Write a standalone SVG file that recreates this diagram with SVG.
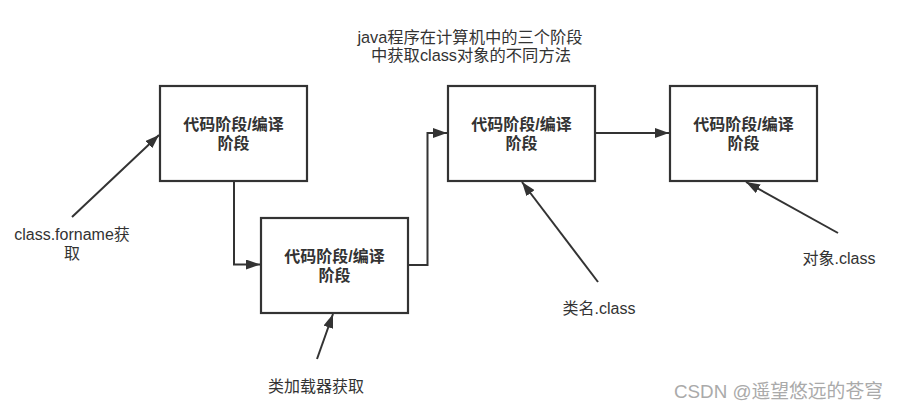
<svg xmlns="http://www.w3.org/2000/svg" width="900" height="409" viewBox="0 0 900 409">
<style>
text{font-family:"Liberation Sans","Noto Sans CJK SC",sans-serif;fill:#333;text-anchor:middle;dominant-baseline:central}
.box{fill:#fff;stroke:#333;stroke-width:2.2}
.bt{font-size:16px;font-weight:bold}
.lb{font-size:16px}
.title{font-size:16.3px}
.edge{fill:none;stroke:#333;stroke-width:2}
.wm{font-size:18.8px;fill:#aaa;text-anchor:start}
</style>
<defs>
<marker id="arr" viewBox="0 0 14 10" refX="14" refY="5" markerWidth="14" markerHeight="10" orient="auto" markerUnits="userSpaceOnUse">
<path d="M0,0 L14,5 L0,10 z" fill="#333"/>
</marker>
</defs>
<rect width="900" height="409" fill="#fff"/>
<g id="title">
<text class="title"><tspan x="470" y="37">java程序在计算机中的三个阶段</tspan><tspan x="471" y="55">中获取class对象的不同方法</tspan></text>
</g>
<g id="connectors">
<polyline class="edge" points="234,181 234,264.5 260,264.5" marker-end="url(#arr)"/>
<polyline class="edge" points="408,265 427.5,265 427.5,133 447,133" marker-end="url(#arr)"/>
<line class="edge" x1="595" y1="133" x2="669" y2="133" marker-end="url(#arr)"/>
<line class="edge" x1="72" y1="217" x2="159" y2="135" marker-end="url(#arr)"/>
<line class="edge" x1="317" y1="359" x2="333" y2="314" marker-end="url(#arr)"/>
<line class="edge" x1="598" y1="282" x2="522" y2="182" marker-end="url(#arr)"/>
<line class="edge" x1="838" y1="233" x2="746" y2="182" marker-end="url(#arr)"/>
</g>
<g id="node1">
<rect class="box" x="160" y="86" width="147" height="95"/>
<text class="bt"><tspan x="233.5" y="123.5">代码阶段/编译</tspan><tspan x="233.5" y="143">阶段</tspan></text>
</g>
<g id="node2">
<rect class="box" x="261" y="218" width="147" height="95"/>
<text class="bt"><tspan x="334.5" y="255.5">代码阶段/编译</tspan><tspan x="334.5" y="275">阶段</tspan></text>
</g>
<g id="node3">
<rect class="box" x="448" y="86" width="147" height="95"/>
<text class="bt"><tspan x="521.5" y="123.5">代码阶段/编译</tspan><tspan x="521.5" y="143">阶段</tspan></text>
</g>
<g id="node4">
<rect class="box" x="670" y="86" width="147" height="95"/>
<text class="bt"><tspan x="743.5" y="123.5">代码阶段/编译</tspan><tspan x="743.5" y="143">阶段</tspan></text>
</g>
<g id="label-forname">
<text class="lb"><tspan x="72" y="234">class.forname获</tspan><tspan x="72" y="253">取</tspan></text>
</g>
<g id="label-loader">
<text class="lb" x="316" y="386">类加载器获取</text>
</g>
<g id="label-classname">
<text class="lb" x="599" y="308">类名.class</text>
</g>
<g id="label-object">
<text class="lb" x="839" y="258">对象.class</text>
</g>
<text class="wm" x="674" y="391">CSDN @遥望悠远的苍穹</text>
</svg>
